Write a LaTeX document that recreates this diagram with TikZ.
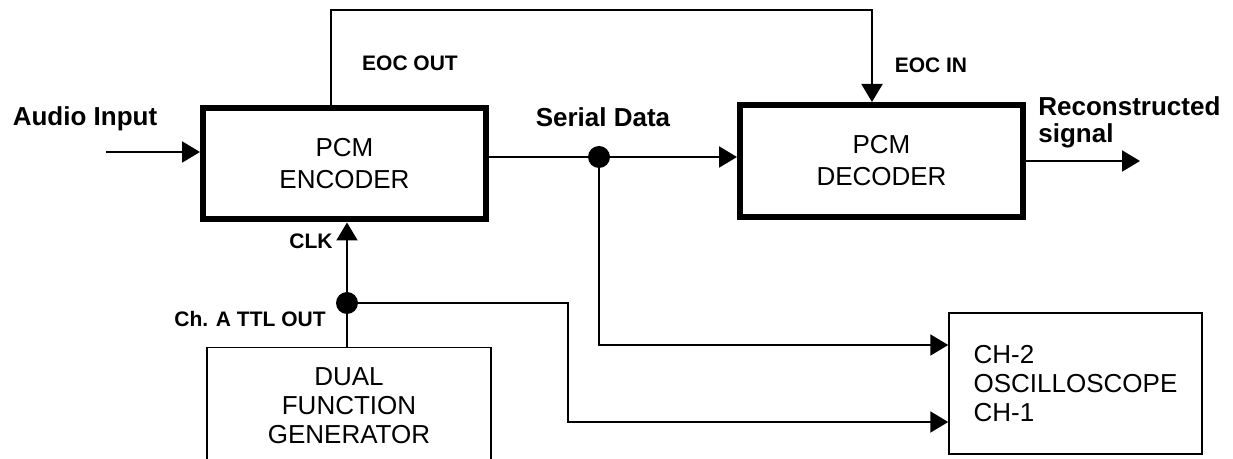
\documentclass[tikz,border=0pt]{standalone}
\usepackage{fontspec}
\setmainfont{Liberation Sans}
\usepackage{tikz}
\usetikzlibrary{arrows.meta, positioning}

\tikzset{
  pcm/.style={draw, line width=3pt, minimum width=141.5pt, minimum height=55.5pt, align=center, font=\fontsize{13}{16}\selectfont},
  unit/.style={draw, line width=0.75pt, align=center, font=\fontsize{13}{14.5}\selectfont},
  lbl/.style={font=\bfseries\fontsize{13}{15}\selectfont, inner sep=0pt},
  tag/.style={font=\bfseries\fontsize{10.5}{12}\selectfont, inner sep=0pt},
  joint/.style={circle, fill, inner sep=0pt, minimum size=11pt},
  wire/.style={line width=1pt},
  feed/.style={wire, -{Triangle[length=9pt,width=10.5pt]}}
}

\begin{document}
\begin{tikzpicture}[x=0.5pt, y=-0.5pt]
            \useasboundingbox (0,0) rectangle (1233,459);
            \node[pcm] (enc) at (344.5,164) {PCM\\ENCODER};
            \node[pcm, minimum height=56pt] (dec) at (881.5,161) {PCM\\DECODER};
            \node[unit, anchor=north, minimum width=142pt, inner ysep=10pt] (gen) at (349,347) {DUAL\\FUNCTION\\GENERATOR};
            \node[unit, align=left, minimum width=126.5pt, minimum height=70.5pt] (scope) at (1075.5,383.5) {CH-2\\OSCILLOSCOPE\\CH-1};
            \node[joint] (sdot) at (599,157) {};
            \node[joint] (cdot) at (347,303) {};
            \coordinate (ain) at (106,152);
            \coordinate (aout) at (1140,161);
            \coordinate (eocL) at (331,10);
            \coordinate (eocR) at (872,10);
            \coordinate (bend) at (568,422);

            \node[lbl, anchor=base] (audio) at (85,126) {Audio Input};
            \node[lbl, anchor=base] (serial) at (603,127) {Serial Data};
            \node[lbl, anchor=base west] (recA) at (1038,116) {Reconstructed};
            \node[lbl, anchor=base west] (recB) at (1038,143) {signal};
            \node[tag, anchor=base] (eocout) at (410,71) {EOC OUT};
            \node[tag, anchor=base] (eocin) at (931,73) {EOC IN};
            \node[tag, anchor=base east] (clk) at (333,249) {CLK};
            \node[tag, anchor=base east] (ttl) at (326,327) {Ch. A TTL OUT};

            \draw[feed] (ain) -- (ain -| enc.west);
            \draw[wire] (enc.east |- sdot) -- (sdot);
            \draw[feed] (sdot) -- (sdot -| dec.west);
            \draw[feed] (dec.east) -- (aout);
            \draw[feed] (eocL |- enc.north) -- (eocL) -- (eocR) -- (eocR |- dec.north);
            \draw[wire] (cdot |- gen.north) -- (cdot);
            \draw[feed] (cdot) -- (cdot |- enc.south);
            \draw[feed] (sdot) |- ([yshift=19.25pt]scope.west);
            \draw[feed] (cdot) -| (bend) -- ([yshift=-19.25pt]scope.west);
        \end{tikzpicture}
\end{document}
